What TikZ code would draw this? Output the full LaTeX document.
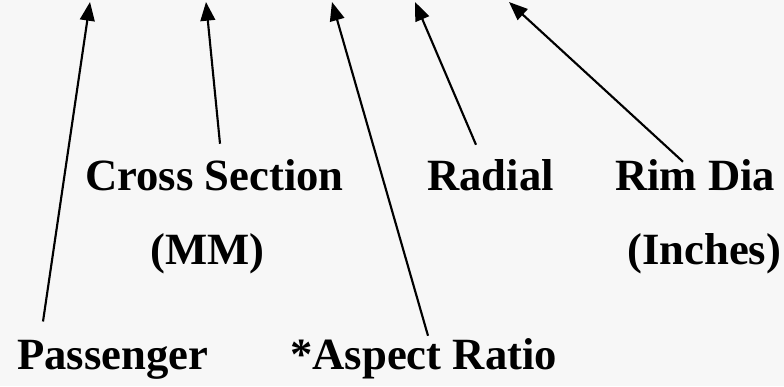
\documentclass[tikz,border=0pt]{standalone}
\usepackage{fontspec}
\setmainfont{Liberation Serif}
\usepackage{tikz}
\usetikzlibrary{positioning,arrows.meta,calc}

\tikzset{
  label/.style={anchor=base west, inner sep=0pt, font=\fontsize{33.5}{40}\selectfont\bfseries},
  pointer/.style={line width=1.6pt, -{Triangle[length=14pt, width=11pt]}}
}

\begin{document}
\begin{tikzpicture}[x=0.75pt, y=-0.75pt]
  \fill[black!3] (0,0) rectangle (784,386);
  \useasboundingbox (0,0) rectangle (784,386);

  % labels
  \node[label] (cross) at (85,190) {Cross Section};
  \node[label] (mm) at (150,264) {(MM)};
  \node[label] (radial) at (427,190) {Radial};
  \node[label] (rim) at (615,190) {Rim Dia};
  \node[label] (inches) at (627,264) {(Inches)};
  \node[label] (pass) at (17,369) {Passenger};
  \node[label] (aspect) at (290,369) {*Aspect Ratio};

  % arrow heads along the top
  \coordinate (tip1) at (90,2);
  \coordinate (tip2) at (206,2);
  \coordinate (tip3) at (332,2);
  \coordinate (tip4) at (415,2);
  \coordinate (tip5) at (509,2);

  \draw[pointer] ($(pass.north west)+(26,-18)$) -- (tip1);
  \draw[pointer] ($(cross.north west)+(135,-15)$) -- (tip2);
  \draw[pointer] ($(aspect.north west)+(138,-2)$) -- (tip3);
  \draw[pointer] ($(radial.north west)+(49,-14)$) -- (tip4);
  \draw[pointer] ($(rim.north west)+(68,3)$) -- (tip5);
\end{tikzpicture}
\end{document}
